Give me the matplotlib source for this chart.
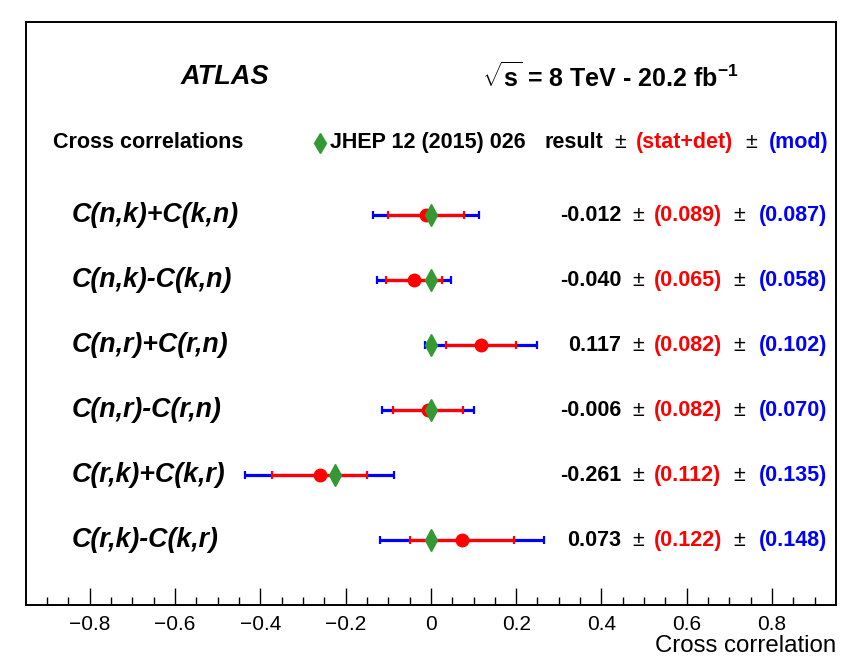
import numpy as np
import matplotlib
matplotlib.use("Agg")
import matplotlib.pyplot as plt

plt.rcParams['font.family'] = ['Liberation Sans', 'DejaVu Sans']
plt.rcParams['mathtext.fontset'] = 'custom'
plt.rcParams['mathtext.rm'] = 'Liberation Sans:bold'
plt.rcParams['mathtext.bf'] = 'Liberation Sans:bold'
plt.rcParams['mathtext.it'] = 'Liberation Sans:bold'

# data
labels = ['C(n,k)+C(k,n)', 'C(n,k)-C(k,n)', 'C(n,r)+C(r,n)',
          'C(n,r)-C(r,n)', 'C(r,k)+C(k,r)', 'C(r,k)-C(k,r)']
result = [-0.012, -0.040, 0.117, -0.006, -0.261, 0.073]
stat_det = [0.089, 0.065, 0.082, 0.082, 0.112, 0.122]
mod = [0.087, 0.058, 0.102, 0.070, 0.135, 0.148]
jhep = [0.0, 0.0, 0.0, 0.0, -0.224, 0.0]

result = np.array(result)
stat_det = np.array(stat_det)
mod = np.array(mod)
total = np.sqrt(stat_det**2 + mod**2)
ypos = np.arange(len(labels))

red = '#ff0000'
blue = '#0000ff'
green = '#339933'
fs = 15.5

fig = plt.figure(figsize=(8.43, 6.6), dpi=100)
ax = fig.add_axes([0.0305, 0.0833, 0.9612, 0.8834])

# total (blue) under stat+det (red)
ax.errorbar(result, ypos, xerr=total, fmt='none', ecolor=blue, elinewidth=2.3,
            capsize=3, capthick=1.6, zorder=2)
ax.errorbar(result, ypos, xerr=stat_det, fmt='none', ecolor=red, elinewidth=2.3,
            capsize=3, capthick=1.6, zorder=3)
ax.plot(result, ypos, 'o', color=red, ms=9, zorder=4)
ax.plot(jhep, ypos, 'd', color=green, ms=11, mec=green, zorder=5)

ax.set_xlim(-0.95, 0.95)
ax.set_ylim(6.0, -2.97)

# row labels and numbers
for i in range(len(labels)):
    ax.text(-0.843, i, labels[i], fontsize=19.3, fontweight='bold', style='italic',
            ha='left', va='center')
    ax.text(0.446, i, '%.3f' % result[i], fontsize=fs, fontweight='bold',
            ha='right', va='center')
    ax.text(0.486, i, '±', fontsize=fs, ha='center', va='center')
    ax.text(0.523, i, '(%.3f)' % stat_det[i], fontsize=fs, fontweight='bold',
            color=red, ha='left', va='center')
    ax.text(0.722, i, '±', fontsize=fs, ha='center', va='center')
    ax.text(0.930, i, '(%.3f)' % mod[i], fontsize=fs, fontweight='bold',
            color=blue, ha='right', va='center')

# header line
hy = -1.11
ax.text(-0.886, hy, 'Cross correlations', fontsize=fs, fontweight='bold',
        ha='left', va='center')
ax.plot([-0.259], [hy], 'd', color=green, ms=10, clip_on=False)
ax.text(-0.236, hy, 'JHEP 12 (2015) 026', fontsize=fs, fontweight='bold',
        ha='left', va='center')
ax.text(0.405, hy, 'result', fontsize=fs, fontweight='bold', ha='right', va='center')
ax.text(0.444, hy, '±', fontsize=fs, ha='center', va='center')
ax.text(0.481, hy, '(stat+det)', fontsize=fs, fontweight='bold', color=red,
        ha='left', va='center')
ax.text(0.752, hy, '±', fontsize=fs, ha='center', va='center')
ax.text(0.932, hy, '(mod)', fontsize=fs, fontweight='bold', color=blue,
        ha='right', va='center')

# title line
ty = -2.12
ax.text(-0.588, ty, 'ATLAS', fontsize=19.5, fontweight='bold', style='italic',
        ha='left', va='center')
ax.text(0.119, ty, r'$\sqrt{s}$ = 8 TeV - 20.2 fb$^{-1}$', fontsize=18,
        fontweight='bold', ha='left', va='center')

# axes style
ax.set_xticks([-0.8, -0.6, -0.4, -0.2, 0, 0.2, 0.4, 0.6, 0.8])
ax.set_xticklabels(['−0.8', '−0.6', '−0.4', '−0.2', '0', '0.2', '0.4', '0.6', '0.8'])
ax.set_xticks(np.arange(-0.9, 0.91, 0.05), minor=True)
ax.tick_params(axis='x', which='major', direction='in', length=12, width=1,
               labelsize=15, pad=7)
ax.tick_params(axis='x', which='minor', direction='in', length=6, width=1)
ax.set_yticks([])
for s in ax.spines.values():
    s.set_linewidth(1.4)

fig.text(836 / 843, 1 - 646 / 660, 'Cross correlation', fontsize=17.3,
         ha='right', va='center')

plt.savefig('out.png', dpi=100)
